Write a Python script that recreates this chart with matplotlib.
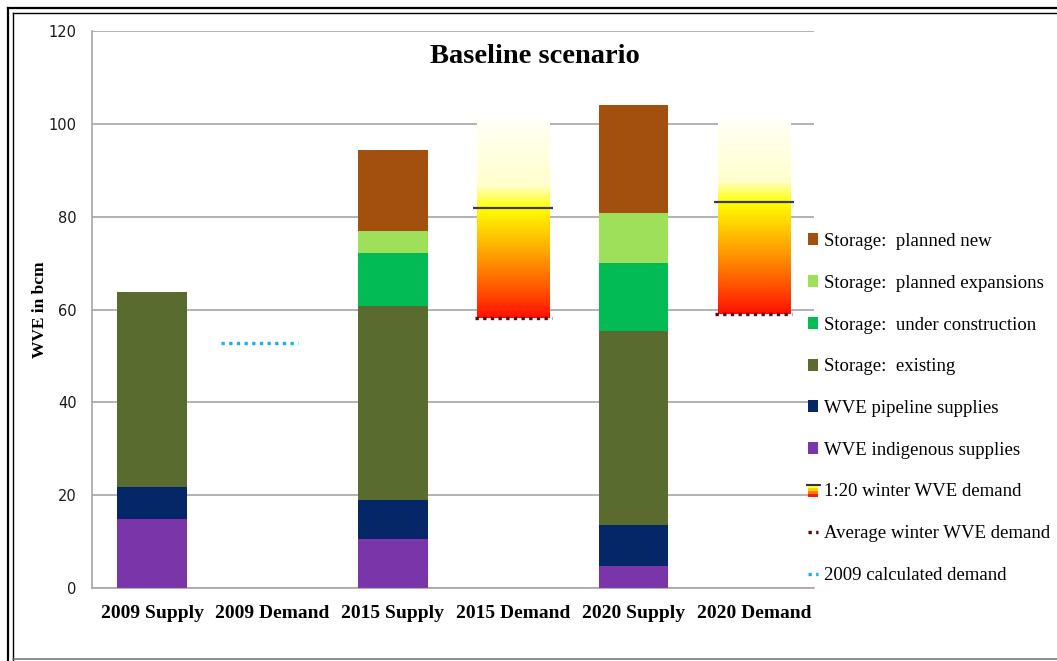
import numpy as np
import matplotlib.pyplot as plt
from matplotlib.patches import Rectangle
from matplotlib.lines import Line2D
from matplotlib.legend_handler import HandlerBase

categories = ['2009 Supply', '2009 Demand', '2015 Supply', '2015 Demand',
              '2020 Supply', '2020 Demand']
supply_pos = [0, 2, 4]

# stacked supply components (bcm), bottom to top, for 2009/2015/2020 supply
indigenous = [14.9, 10.6, 4.7]
pipeline = [6.9, 8.4, 8.9]
storage_existing = [42.0, 41.8, 41.8]
storage_construction = [0.0, 11.4, 14.6]
storage_expansions = [0.0, 4.8, 10.8]
storage_new = [0.0, 17.4, 23.3]

demand_pos = [3, 5]
avg_winter_demand = [58.2, 59.0]
peak_winter_demand = [81.9, 83.2]
band_top = 101.0

calc_demand_2009 = 52.8

series = [
    ('WVE indigenous supplies', indigenous, '#7a36a8'),
    ('WVE pipeline supplies', pipeline, '#052667'),
    ('Storage:  existing', storage_existing, '#5a6b30'),
    ('Storage:  under construction', storage_construction, '#03bb54'),
    ('Storage:  planned expansions', storage_expansions, '#9ee05a'),
    ('Storage:  planned new', storage_new, '#a34f0d'),
]

serif = ['Liberation Serif', 'DejaVu Serif']
dots = (0, (1, 1.3))

fig = plt.figure(figsize=(10.57, 6.61), dpi=100)
ax = fig.add_axes([92 / 1057, 1 - 588 / 661, (814 - 92) / 1057, (588 - 31) / 661])

bar_w = 0.58
bottom = np.zeros(3)
handles = {}
for label, vals, color in series:
    b = ax.bar(supply_pos, vals, bar_w, bottom=bottom, color=color, zorder=3,
               linewidth=0)
    handles[label] = b
    bottom += np.array(vals)

# gradient demand bands: red at average, yellow at 1:20, fading to white above
def band_colour(v, lo, mid, hi):
    if v <= mid:
        t = (v - lo) / (mid - lo)
        return np.array([1.0, min(1.0, 0.05 + 0.95 * t ** 0.9), 0.0])
    t = (v - mid) / (hi - mid)
    yel = np.array([1.0, 1.0, 0.0])
    pale = np.array([1.0, 1.0, 0.8])
    wht = np.array([1.0, 1.0, 0.97])
    if t < 0.25:
        return yel + (pale - yel) * (t / 0.25)
    return pale + (wht - pale) * ((t - 0.25) / 0.75)

band_w = 0.6
for x, lo, mid in zip(demand_pos, avg_winter_demand, peak_winter_demand):
    ys = np.linspace(lo, band_top, 200)
    img = np.array([band_colour(v, lo, mid, band_top) for v in ys])[:, None, :]
    ax.imshow(img, extent=[x - band_w / 2, x + band_w / 2, lo, band_top],
              origin='lower', aspect='auto', zorder=2, interpolation='bilinear')
    ax.hlines(mid, x - 0.33, x + 0.33, color='#3a3a3a', lw=1.6, zorder=4)
    ax.hlines(lo, x - 0.32, x + 0.32, color='#5a0a0a', lw=2.4,
              linestyles=dots, zorder=4)

ax.hlines(calc_demand_2009, 0.57, 1.21, color='#1ab0ef', lw=2.4,
          linestyles=dots, zorder=4)

ax.set_xlim(-0.5, 5.5)
ax.set_ylim(0, 120)
ax.set_yticks(range(0, 121, 20))
ax.yaxis.grid(True, color='#a6a6a6', lw=1.2, zorder=0)
ax.set_axisbelow(True)
for s in ['top', 'right']:
    ax.spines[s].set_visible(False)
ax.spines['left'].set_color('#a6a6a6')
ax.spines['bottom'].set_color('#a6a6a6')
ax.spines['left'].set_linewidth(1.2)
ax.spines['bottom'].set_linewidth(1.2)
ax.tick_params(axis='both', length=0)
ax.tick_params(axis='y', pad=11)
ax.set_xticks(range(len(categories)))
ax.set_xticklabels(categories, family=serif, fontweight='bold', fontsize=14)
ax.tick_params(axis='x', pad=12.5)
for t in ax.get_yticklabels():
    t.set_family('DejaVu Sans')
    t.set_fontsize(10.5)
    t.set_color('#1a1a1a')
ax.set_ylabel('WVE in bcm', family=serif, fontweight='bold', fontsize=12.5)
ax.yaxis.set_label_coords((48 - 92) / 722, 0.5)
ax.text(0.614, 114.4, 'Baseline scenario', family=serif, fontweight='bold',
        fontsize=20.5, ha='center', va='center',
        transform=ax.get_yaxis_transform())


class GradientHandler(HandlerBase):
    def create_artists(self, legend, orig, x0, y0, w, h, fs, trans):
        arts = []
        cols = ['#ff1a00', '#ff8000', '#ffd000', '#ffff40']
        n = len(cols)
        for i, c in enumerate(cols):
            arts.append(Rectangle((x0, y0 + i * h / n), w, h / n, color=c,
                                  transform=trans, lw=0))
        arts.append(Line2D([x0 - 1, x0 + w + 1], [y0 + h, y0 + h],
                           color='#333333', lw=1.5, transform=trans))
        return arts


grad_handle = Rectangle((0, 0), 1, 1)
avg_handle = Line2D([], [], color='#5a0a0a', lw=2.4, linestyle=dots)
calc_handle = Line2D([], [], color='#1ab0ef', lw=2.4, linestyle=dots)

order = ['Storage:  planned new', 'Storage:  planned expansions',
         'Storage:  under construction', 'Storage:  existing',
         'WVE pipeline supplies', 'WVE indigenous supplies']
h_list = [handles[k] for k in order] + [grad_handle, avg_handle, calc_handle]
l_list = order + ['1:20 winter WVE demand', 'Average winter WVE demand',
                  '2009 calculated demand']
leg = fig.legend(h_list, l_list, loc='upper left',
                 bbox_to_anchor=(808 / 1057, 1 - 233 / 661),
                 frameon=False, prop={'family': serif, 'size': 13.5},
                 handlelength=0.55, handleheight=0.6, handletextpad=0.3,
                 labelspacing=1.32, borderpad=0, borderaxespad=0,
                 handler_map={grad_handle: GradientHandler()})

# outer chart frame
fr = fig.add_axes([0, 0, 1, 1], zorder=-1)
fr.set_xlim(0, 1057)
fr.set_ylim(661, 0)
fr.axis('off')
fr.plot([8, 1057], [8, 8], color='black', lw=1.6)
fr.plot([13, 1057], [13, 13], color='black', lw=1.0)
fr.plot([8, 8], [8, 661], color='black', lw=1.6)
fr.plot([13, 13], [13, 661], color='black', lw=1.0)
fr.plot([13, 1057], [659, 659], color='#777777', lw=1.2)

fig.savefig('out.png', dpi=100)
